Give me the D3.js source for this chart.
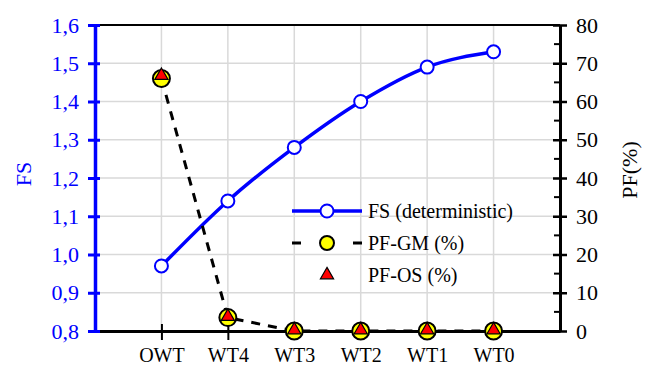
<!DOCTYPE html>
<html>
<head>
<meta charset="utf-8">
<script src="https://cdn.jsdelivr.net/npm/d3@7"></script>
<style>
  body { margin: 0; background: #fff; }
</style>
</head>
<body>
<div id="chart"></div>
<script>
const categories = ['OWT', 'WT4', 'WT3', 'WT2', 'WT1', 'WT0'];
const fsValues = [0.97, 1.14, 1.28, 1.40, 1.49, 1.53];
const pfGm = [66, 3.5, 0, 0, 0, 0];
const pfOs = [66.5, 3.5, 0, 0, 0, 0];
const fsTicks = [0.8, 0.9, 1.0, 1.1, 1.2, 1.3, 1.4, 1.5, 1.6];
const pfTicks = [0, 10, 20, 30, 40, 50, 60, 70, 80];

const FONT = 'Liberation Serif';
const width = 654, height = 370;
const margin = {top: 25, right: 94, bottom: 39, left: 95};
const innerW = width - margin.left - margin.right;
const innerH = height - margin.top - margin.bottom;

const svg = d3.select('#chart').append('svg')
  .attr('width', width)
  .attr('height', height);

const g = svg.append('g')
  .attr('transform', `translate(${margin.left},${margin.top})`);

const x = d3.scalePoint().domain(categories).range([0, innerW]).padding(1);
const yL = d3.scaleLinear().domain([0.8, 1.6]).range([innerH, 0]);
const yR = d3.scaleLinear().domain([0, 80]).range([innerH, 0]);

// grid
g.selectAll('.hgrid').data(fsTicks.slice(1, -1)).join('line')
  .attr('x1', 0).attr('x2', innerW)
  .attr('y1', d => yL(d)).attr('y2', d => yL(d))
  .attr('stroke', '#d9d9d9').attr('stroke-width', 1.5);
g.selectAll('.vgrid').data(categories).join('line')
  .attr('x1', d => x(d)).attr('x2', d => x(d))
  .attr('y1', 0).attr('y2', innerH)
  .attr('stroke', '#d9d9d9').attr('stroke-width', 1.5);

// top border
g.append('line').attr('x1', 0).attr('x2', innerW).attr('y1', 0).attr('y2', 0)
  .attr('stroke', '#000').attr('stroke-width', 2);

// bottom axis
const xAxis = g.append('g').attr('transform', `translate(0,${innerH})`)
  .call(d3.axisBottom(x).tickSize(0).tickPadding(17));
xAxis.attr('font-family', null);
xAxis.select('.domain').attr('stroke', '#000').attr('stroke-width', 3);
xAxis.selectAll('text').attr('font-size', 20).attr('fill', '#000');
xAxis.selectAll('.tick').append('line')
  .attr('y1', -7).attr('y2', 9).attr('stroke', '#000').attr('stroke-width', 2);

// left axis (blue)
const leftAxis = g.append('g')
  .call(d3.axisLeft(yL).tickValues(fsTicks).tickFormat(d => d3.format('.1f')(d).replace('.', ','))
    .tickSize(7).tickSizeOuter(0).tickPadding(9));
leftAxis.attr('font-family', null);
leftAxis.select('.domain').attr('stroke', 'blue').attr('stroke-width', 3.5);
leftAxis.selectAll('.tick line').attr('stroke', 'blue').attr('stroke-width', 3).attr('x2', 5).attr('x1', -7);
leftAxis.selectAll('text').attr('font-size', 22).attr('fill', 'blue');

// right axis
const rightAxis = g.append('g').attr('transform', `translate(${innerW},0)`)
  .call(d3.axisRight(yR).tickValues(pfTicks).tickSize(7).tickSizeOuter(0).tickPadding(9));
rightAxis.attr('font-family', null);
rightAxis.select('.domain').attr('stroke', '#000').attr('stroke-width', 3);
rightAxis.selectAll('.tick line').attr('stroke', '#000').attr('stroke-width', 2.5).attr('x1', -7);
rightAxis.selectAll('text').attr('font-size', 22).attr('fill', '#000');
rightAxis.selectAll('.minor').data(d3.range(5, 80, 10)).join('line')
  .attr('x1', -6).attr('x2', 0)
  .attr('y1', d => yR(d)).attr('y2', d => yR(d))
  .attr('stroke', '#000').attr('stroke-width', 2);

// axis titles
svg.append('text')
  .attr('transform', `translate(31,${margin.top + innerH / 2 - 4}) rotate(-90)`)
  .attr('text-anchor', 'middle')
  .attr('font-size', 22).attr('fill', 'blue')
  .text('FS');
svg.append('text')
  .attr('transform', `translate(${width - 17},${margin.top + innerH / 2 - 8}) rotate(-90)`)
  .attr('text-anchor', 'middle')
  .attr('font-size', 22).attr('fill', '#000')
  .text('PF(%)');

// FS line
const fsLine = d3.line().x((d, i) => x(categories[i])).y(d => yL(d)).curve(d3.curveMonotoneX);
g.append('path').datum(fsValues)
  .attr('d', fsLine).attr('fill', 'none').attr('stroke', 'blue').attr('stroke-width', 3.5);

// PF-GM dashed line
const pfLine = d3.line().x((d, i) => x(categories[i])).y(d => yR(d));
g.append('path').datum(pfGm)
  .attr('d', pfLine).attr('fill', 'none').attr('stroke', '#000')
  .attr('stroke-width', 3).attr('stroke-dasharray', '9,8');

// FS markers
g.selectAll('.fsm').data(fsValues).join('circle')
  .attr('cx', (d, i) => x(categories[i])).attr('cy', d => yL(d)).attr('r', 6.5)
  .attr('fill', '#fff').attr('stroke', 'blue').attr('stroke-width', 2);

// PF-GM markers
g.selectAll('.gmm').data(pfGm).join('circle')
  .attr('cx', (d, i) => x(categories[i])).attr('cy', d => yR(d)).attr('r', 8.5)
  .attr('fill', '#ffff00').attr('stroke', '#000').attr('stroke-width', 2);

// PF-OS markers
const tri = d3.symbol().type(d3.symbolTriangle).size(75);
g.selectAll('.osm').data(pfOs).join('path')
  .attr('transform', (d, i) => `translate(${x(categories[i])},${yR(d) - 1})`)
  .attr('d', tri)
  .attr('fill', '#ff0000').attr('stroke', '#000').attr('stroke-width', 1.2);

// legend
const lg = svg.append('g').attr('transform', 'translate(292,211)');
lg.append('line').attr('x1', 0).attr('x2', 70).attr('y1', 0).attr('y2', 0)
  .attr('stroke', 'blue').attr('stroke-width', 3.5);
lg.append('circle').attr('cx', 35).attr('cy', 0).attr('r', 6.5)
  .attr('fill', '#fff').attr('stroke', 'blue').attr('stroke-width', 2);
lg.append('text').attr('x', 76).attr('y', 7).attr('font-size', 20).text('FS (deterministic)');

lg.append('line').attr('x1', 0).attr('x2', 70).attr('y1', 32).attr('y2', 32)
  .attr('stroke', '#000').attr('stroke-width', 3).attr('stroke-dasharray', '9,20,12,20,9');
lg.append('circle').attr('cx', 35).attr('cy', 32).attr('r', 7)
  .attr('fill', '#ffff00').attr('stroke', '#000').attr('stroke-width', 2);
lg.append('text').attr('x', 76).attr('y', 39).attr('font-size', 20).text('PF-GM (%)');

lg.append('path').attr('transform', 'translate(35,64)').attr('d', tri)
  .attr('fill', '#ff0000').attr('stroke', '#000').attr('stroke-width', 1.2);
lg.append('text').attr('x', 76).attr('y', 71).attr('font-size', 20).text('PF-OS (%)');

// every label uses the serif face
svg.selectAll('text').attr('font-family', FONT);
</script>
</body>
</html>
